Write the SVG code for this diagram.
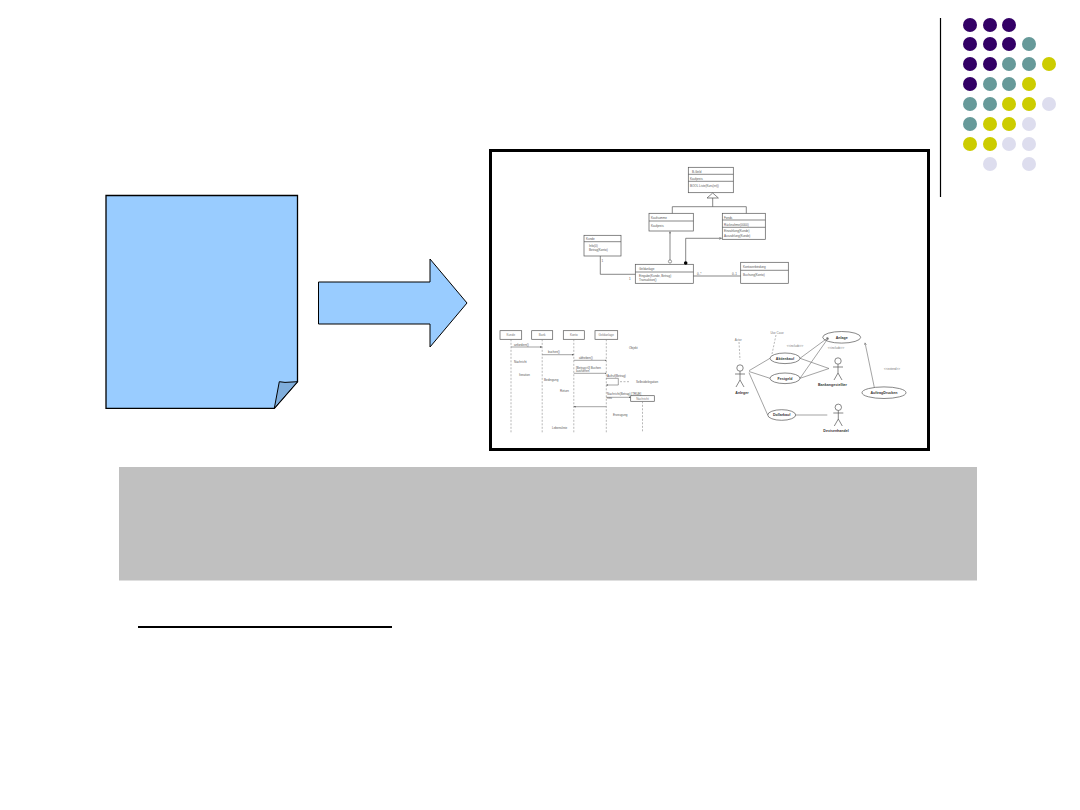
<svg xmlns="http://www.w3.org/2000/svg" width="1080" height="810" viewBox="0 0 1080 810">
<defs>
<style>
.dP{fill:#330066}.dT{fill:#669999}.dY{fill:#cccc00}.dL{fill:#ddddee}
.u{fill:#fff;stroke:#555;stroke-width:0.7}
.ul{fill:none;stroke:#555;stroke-width:0.7}
.ud{fill:none;stroke:#888;stroke-width:0.6;stroke-dasharray:2 1.5}
.t{font-family:"Liberation Sans",Arial,sans-serif;font-size:3px;fill:#555}
.tb{font-family:"Liberation Sans",Arial,sans-serif;font-size:3.6px;font-weight:bold;fill:#333;text-anchor:middle}
.tc{font-family:"Liberation Sans",Arial,sans-serif;font-size:3px;fill:#777;text-anchor:middle}
</style>
<marker id="oa" viewBox="0 0 6 6" refX="6" refY="3" markerWidth="4" markerHeight="4" orient="auto"><path d="M0,0 L6,3 L0,6" fill="none" stroke="#555" stroke-width="1"/></marker>
<marker id="fa" viewBox="0 0 6 6" refX="6" refY="3" markerWidth="3" markerHeight="3" orient="auto"><path d="M0,0 L6,3 L0,6 Z" fill="#555"/></marker>
</defs>
<rect width="1080" height="810" fill="#fff"/>

<g id="decor-dots">
<line x1="940.5" y1="18" x2="940.5" y2="197" stroke="#000" stroke-width="1.2"/>
<circle class="dP" cx="970" cy="25" r="7"/><circle class="dP" cx="990" cy="25" r="7"/><circle class="dP" cx="1009" cy="25" r="7"/>
<circle class="dP" cx="970" cy="44" r="7"/><circle class="dP" cx="990" cy="44" r="7"/><circle class="dP" cx="1009" cy="44" r="7"/><circle class="dT" cx="1029" cy="44" r="7"/>
<circle class="dP" cx="970" cy="64" r="7"/><circle class="dP" cx="990" cy="64" r="7"/><circle class="dT" cx="1009" cy="64" r="7"/><circle class="dT" cx="1029" cy="64" r="7"/><circle class="dY" cx="1049" cy="64" r="7"/>
<circle class="dP" cx="970" cy="84" r="7"/><circle class="dT" cx="990" cy="84" r="7"/><circle class="dT" cx="1009" cy="84" r="7"/><circle class="dY" cx="1029" cy="84" r="7"/>
<circle class="dT" cx="970" cy="104" r="7"/><circle class="dT" cx="990" cy="104" r="7"/><circle class="dY" cx="1009" cy="104" r="7"/><circle class="dY" cx="1029" cy="104" r="7"/><circle class="dL" cx="1049" cy="104" r="7"/>
<circle class="dT" cx="970" cy="124" r="7"/><circle class="dY" cx="990" cy="124" r="7"/><circle class="dY" cx="1009" cy="124" r="7"/><circle class="dL" cx="1029" cy="124" r="7"/>
<circle class="dY" cx="970" cy="144" r="7"/><circle class="dY" cx="990" cy="144" r="7"/><circle class="dL" cx="1009" cy="144" r="7"/><circle class="dL" cx="1029" cy="144" r="7"/>
<circle class="dL" cx="990" cy="164" r="7"/><circle class="dL" cx="1029" cy="164" r="7"/>
</g>

<g id="document">
<path d="M106,195.5 H297.5 V381.7 L274.3,408.3 H106 Z" fill="#99ccff" stroke="#000" stroke-width="1.3"/>
<path d="M274.3,408.3 L279.3,381.7 L285,382.4 L297.5,381.7 Z" fill="#80aedc" stroke="#000" stroke-width="1"/>
</g>

<g id="block-arrow">
<polygon points="318.5,282 430,282 430,259 467,303 430,347 430,324 318.5,324" fill="#99ccff" stroke="#000" stroke-width="1"/>
</g>

<g id="uml-picture">
<rect x="490.5" y="150.5" width="438" height="299" fill="#fff" stroke="#000" stroke-width="3"/>

<g id="class-anlage"><rect class="u" x="688.3" y="167.3" width="45" height="25.4"/>
<line class="ul" x1="688.3" y1="174.3" x2="733.3" y2="174.3"/><line class="ul" x1="688.3" y1="181.3" x2="733.3" y2="181.3"/>
<text class="t" x="692" y="172.5">B-Geld</text><text class="t" x="690" y="179.5">Kaufpreis</text><text class="t" x="690" y="186.5">BOOL Liste(Kurs(int))</text></g>
<g id="class-left"><rect class="u" x="649" y="213.3" width="44.3" height="17.7"/>
<line class="ul" x1="649" y1="221" x2="693.3" y2="221"/>
<text class="t" x="651" y="219">Kaufsumme</text><text class="t" x="651" y="227">Kaufpreis</text></g>
<g id="class-right"><rect class="u" x="722.3" y="213.3" width="43" height="26"/>
<line class="ul" x1="722.3" y1="220" x2="765.3" y2="220"/><line class="ul" x1="722.3" y1="227.3" x2="765.3" y2="227.3"/>
<text class="t" x="724" y="218.5">Fonds</text><text class="t" x="724" y="225.5">Rücknahme(0000)</text><text class="t" x="724" y="232">Einzahlung(Kunde)</text><text class="t" x="724" y="236.5">Auszahlung(Kunde)</text></g>
<g id="class-small"><rect class="u" x="584" y="235.3" width="37" height="20.7"/>
<line class="ul" x1="584" y1="241.7" x2="621" y2="241.7"/>
<text class="t" x="586" y="240">Kunde</text><text class="t" x="589" y="246.5">Info(0)</text><text class="t" x="589" y="251">Betrag(Konto)</text></g>
<g id="class-center"><rect class="u" x="635.3" y="264.3" width="58" height="19"/>
<line class="ul" x1="635.3" y1="272" x2="693.3" y2="272"/>
<text class="t" x="639" y="270">Geldanlage</text><text class="t" x="639" y="276.5">Eingabe(Kunde, Betrag)</text><text class="t" x="639" y="281">Transaktion()</text></g>
<g id="class-rightbottom"><rect class="u" x="740.7" y="262.3" width="47.6" height="21"/>
<line class="ul" x1="740.7" y1="270.3" x2="788.3" y2="270.3"/>
<text class="t" x="743" y="268">Kontoverbindung</text><text class="t" x="743" y="275.5">Buchung(Konto)</text></g>

<g id="seq-objects">
<rect class="u" x="500" y="330.7" width="21.7" height="8.6"/><text class="tc" x="510.8" y="336">Kunde</text>
<rect class="u" x="531.7" y="330.7" width="21" height="8.6"/><text class="tc" x="542.2" y="336">Bank</text>
<rect class="u" x="563.3" y="330.7" width="21" height="8.6"/><text class="tc" x="573.8" y="336">Konto</text>
<rect class="u" x="595" y="330.7" width="22.7" height="8.6"/><text class="tc" x="606.3" y="336">Geldanlage</text>
<rect class="u" x="630.7" y="395.7" width="23.6" height="5.6"/><text class="tc" x="642.5" y="399.5">Nachricht</text>
</g>
<g id="seq-labels">
<text class="t" x="514" y="345.5">anfordern()</text>
<text class="t" x="548" y="353">buchen()</text>
<text class="t" x="579" y="358.8">abheben()</text>
<text class="t" x="576" y="368.5">[Betrag&gt;0] Buchen</text>
<text class="t" x="576" y="371.5">ausführen</text>
<text class="t" x="607" y="376.5">Aufruf(Betrag)</text>
<text class="t" x="607" y="395.2">Nachricht(Betrag) [TRUE]</text>
<text class="t" x="607" y="398.8">neu</text>
<text class="t" x="629" y="348.5">Objekt</text>
<text class="t" x="514" y="362.5">Nachricht</text>
<text class="t" x="519" y="375.5">Iteration</text>
<text class="t" x="544" y="381.3">Bedingung</text>
<text class="t" x="560" y="392">Return</text>
<text class="t" x="636" y="382.5">Selbstdelegation</text>
<text class="t" x="613" y="416">Erzeugung</text>
<text class="t" x="552" y="429">Lebenslinie</text>
</g>

<g id="uc-nodes">
<ellipse class="u" cx="785" cy="358.3" rx="15" ry="5.3"/><text class="tb" x="785" y="359.6">Aktienkauf</text>
<ellipse class="u" cx="785" cy="378.3" rx="15" ry="5.3"/><text class="tb" x="785" y="379.6">Festgeld</text>
<ellipse class="u" cx="841.7" cy="337.3" rx="19" ry="5.8"/><text class="tb" x="841.7" y="338.6">Anlage</text>
<ellipse class="u" cx="884" cy="392.7" rx="22" ry="5.8"/><text class="tb" x="884" y="394">AuftragDrucken</text>
<ellipse class="u" cx="781.7" cy="415" rx="14" ry="5.3"/><text class="tb" x="781.7" y="416.3">Dollarkauf</text>
<g class="ul"><circle cx="740" cy="368" r="3.2"/><path d="M740,371.2 V380 M735,374 H745 M740,380 L736,387 M740,380 L744,387"/></g>
<text class="tb" x="742" y="393.5">Anleger</text>
<g class="ul"><circle cx="838" cy="361" r="3.2"/><path d="M838,364.2 V373 M833,367 H843 M838,373 L834,380 M838,373 L842,380"/></g>
<text class="tb" x="832.5" y="385.5">Bankangestellter</text>
<g class="ul"><circle cx="838.3" cy="407.3" r="3.2"/><path d="M838.3,410.5 V419 M833.3,413 H843.3 M838.3,419 L834.3,426 M838.3,419 L842.3,426"/></g>
<text class="tb" x="836" y="432">Devisenhandel</text>
<text class="tc" x="738.3" y="341">Actor</text>
<text class="tc" x="777" y="334">Use Case</text>
<text class="tc" x="795" y="347">&lt;&lt;include&gt;&gt;</text>
<text class="tc" x="836" y="349">&lt;&lt;include&gt;&gt;</text>
<text class="tc" x="892" y="370">&lt;&lt;extend&gt;&gt;</text>
</g>
</g>

<g id="connectors">
<polygon points="712.7,193 707,198 718.4,198" fill="#fff" stroke="#555" stroke-width="0.7"/>
<path class="ul" d="M712.7,198 V206.7 M672.3,213.3 V206.7 H746.3 V213.3"/>
<path class="ul" d="M600.3,256 V274.3 H635.3"/>
<text class="t" x="601.5" y="262">1</text><text class="t" x="629" y="280">1</text>
<path class="ul" d="M670,260 V231.5" marker-end="url(#oa)"/>
<circle cx="670" cy="261.5" r="1.6" fill="#fff" stroke="#555" stroke-width="0.6"/>
<path class="ul" d="M685.7,262 V238.3 H721.5" marker-end="url(#oa)"/>
<circle cx="685.7" cy="263" r="1.8" fill="#000"/>
<path class="ul" d="M693.3,276 H740.7" stroke-width="0.9"/>
<text class="t" x="697" y="275">0..*</text><text class="t" x="732" y="275">0..1</text>
<path class="ud" d="M511,339.3 V432.7 M542.2,339.3 V432.7 M573.8,339.3 V432.7 M606.3,339.3 V432.7 M642.5,401.3 V432.7"/>
<g fill="none" stroke="#666" stroke-width="0.6">
<path d="M511,347 H542" marker-end="url(#fa)"/>
<path d="M542.2,354.7 H573.8" marker-end="url(#fa)"/>
<path d="M573.8,360.3 H606.3" marker-end="url(#fa)"/>
<path d="M573.8,373.3 H606.3" marker-end="url(#fa)"/>
<path d="M606.3,378.3 H618.3 V385 H606.3" marker-end="url(#fa)"/>
<path d="M606.3,397.3 H630.7" marker-end="url(#fa)"/>
<path d="M606.3,406.7 H573.8" marker-end="url(#fa)"/>
</g>
<path class="ud" d="M620,381.7 H630"/>
<g fill="none" stroke="#666" stroke-width="0.6">
<path d="M749,370.7 L770,358.3 M749,371.5 L770,378.3 M749,372.7 L767.7,415"/>
<path d="M800,358.3 L828.3,337.5" marker-end="url(#oa)"/>
<path d="M800,378.3 L828.3,338" marker-end="url(#oa)"/>
<path d="M800,358.3 L829,368.5 M800,378.3 L829,368.5 M795.7,415 L827.3,415"/>
<path d="M874.3,387.3 L865,342.7" marker-end="url(#oa)"/>
</g>
<path class="ud" d="M739,342 L740,360 M776,335 L772,354"/>
</g>

<g id="title-bar">
<rect x="119" y="467" width="858" height="113.5" fill="#c0c0c0"/>
</g>

<g id="underline">
<line x1="138" y1="627" x2="392" y2="627" stroke="#000" stroke-width="2"/>
</g>
</svg>
